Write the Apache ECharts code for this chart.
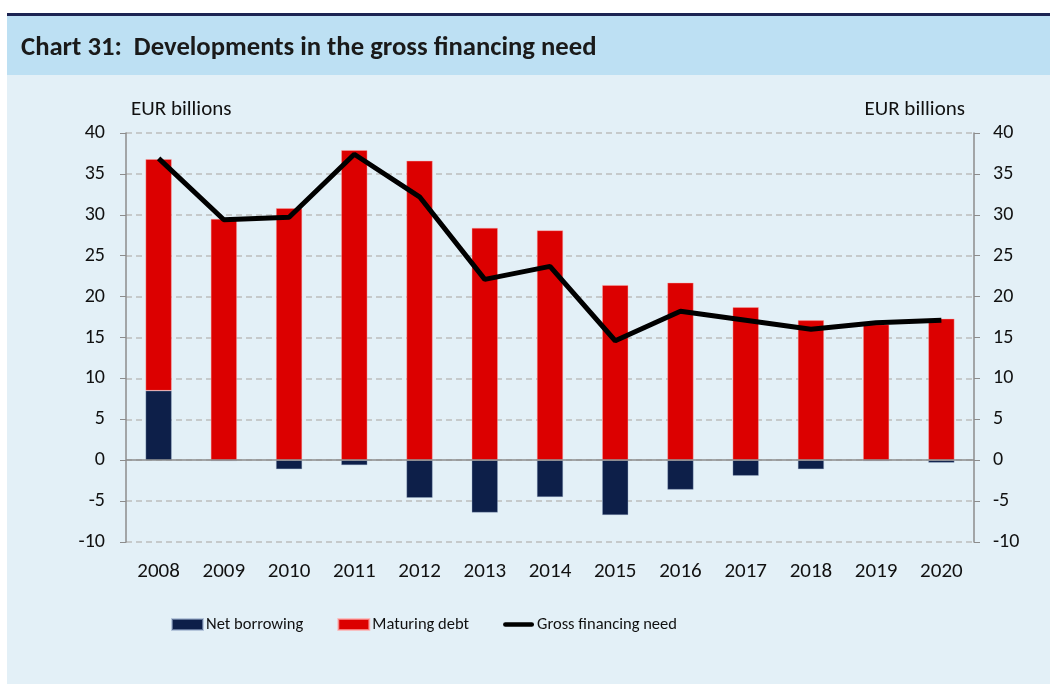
<!DOCTYPE html>
<html>
<head>
<meta charset="utf-8">
<script src="https://cdn.jsdelivr.net/npm/echarts@6/dist/echarts.min.js"></script>
<style>
  html, body { margin: 0; padding: 0; background: #fff; }
  #chart { width: 1050px; height: 684px; }
</style>
</head>
<body>
<div id="chart"></div>
<script>
// data (EUR billions)
const years = ['2008', '2009', '2010', '2011', '2012', '2013', '2014', '2015', '2016', '2017', '2018', '2019', '2020']
const netBorrowing = [8.5, -0.1, -1.1, -0.6, -4.6, -6.4, -4.5, -6.7, -3.6, -1.9, -1.1, -0.1, -0.3]
const maturingDebt = [28.3, 29.5, 30.8, 37.9, 36.6, 28.4, 28.1, 21.4, 21.7, 18.7, 17.1, 16.6, 17.3]
const grossNeed = [36.9, 29.4, 29.7, 37.4, 32.2, 22.1, 23.7, 14.6, 18.2, 17.1, 16.0, 16.8, 17.1]

const font = "Carlito, 'Open Sans', sans-serif"
const axisColor = '#8c8c8c'

const chart = echarts.init(document.getElementById('chart'))

chart.setOption({
  animation: false,
  textStyle: { fontFamily: font },
  graphic: [
    // panel background
    { type: 'rect', z: -10, shape: { x: 7, y: 13, width: 1043, height: 671 }, style: { fill: '#e3f0f7' } },
    { type: 'rect', z: -9, shape: { x: 7, y: 15, width: 1043, height: 60 }, style: { fill: '#bde0f3' } },
    { type: 'rect', z: -8, shape: { x: 7, y: 13, width: 1043, height: 3 }, style: { fill: '#1c2452' } },
    // axis units
    { type: 'text', left: 131, top: 99, style: { text: 'EUR billions', fontSize: 21, fill: '#111', fontFamily: font } },
    { type: 'text', right: 85, top: 99, style: { text: 'EUR billions', fontSize: 21, fill: '#111', fontFamily: font } }
  ],
  title: {
    text: 'Chart 31:  Developments in the gross financing need',
    left: 16,
    top: 30,
    textStyle: { fontSize: 26.7, fontWeight: 'bold', color: '#1a1a1a', fontFamily: font }
  },
  legend: {
    left: 166,
    top: 611,
    itemWidth: 31,
    itemHeight: 11,
    itemGap: 34,
    textStyle: { fontSize: 16.5, color: '#111', fontFamily: font, padding: [0, 0, 0, -2] },
    data: [
      { name: 'Net borrowing', icon: 'rect' },
      { name: 'Maturing debt', icon: 'rect' },
      { name: 'Gross financing need', icon: 'path://M2,0H30A2,2,0,0,1,30,5H2A2,2,0,0,1,2,0Z', itemStyle: { color: '#000' } }
    ]
  },
  grid: {
    left: 126,
    right: 76,
    top: 133,
    bottom: 142
  },
  xAxis: {
    type: 'category',
    data: years,
    axisLine: { show: false },
    axisTick: { show: false },
    axisLabel: { color: '#111', fontSize: 21, margin: 19, fontFamily: font }
  },
  yAxis: [{
    type: 'value',
    min: -10,
    max: 40,
    interval: 5,
    axisLine: { show: true, lineStyle: { color: axisColor, width: 1.5 } },
    axisTick: { show: true, length: 6, lineStyle: { color: axisColor } },
    axisLabel: { color: '#111', fontSize: 20, margin: 21, fontFamily: font },
    splitLine: { lineStyle: { type: [6, 4], color: '#bdbdbd', width: 1.5 } }
  }, {
    type: 'value',
    position: 'right',
    min: -10,
    max: 40,
    interval: 5,
    axisLine: { show: true, lineStyle: { color: axisColor, width: 1.5 } },
    axisTick: { show: true, length: 6, lineStyle: { color: axisColor } },
    axisLabel: { color: '#111', fontSize: 20, margin: 19, fontFamily: font },
    splitLine: { show: false }
  }],
  series: [{
    type: 'bar',
    name: 'Net borrowing',
    stack: 'fin',
    data: netBorrowing,
    barWidth: '40%',
    itemStyle: { color: '#0d1f49', borderColor: 'rgba(150,170,200,0.6)', borderWidth: 0.6 },
    markLine: {
      silent: true,
      symbol: 'none',
      label: { show: false },
      lineStyle: { color: axisColor, type: 'solid', width: 1.5 },
      data: [{ yAxis: 0 }]
    }
  }, {
    type: 'bar',
    name: 'Maturing debt',
    stack: 'fin',
    data: maturingDebt,
    barWidth: '40%',
    itemStyle: { color: '#dc0000', borderColor: 'rgba(255,170,170,0.7)', borderWidth: 0.6 }
  }, {
    type: 'line',
    name: 'Gross financing need',
    data: grossNeed,
    symbol: 'none',
    z: 5,
    itemStyle: { color: '#000' },
    lineStyle: { color: '#000', width: 5 }
  }]
})
</script>
</body>
</html>
